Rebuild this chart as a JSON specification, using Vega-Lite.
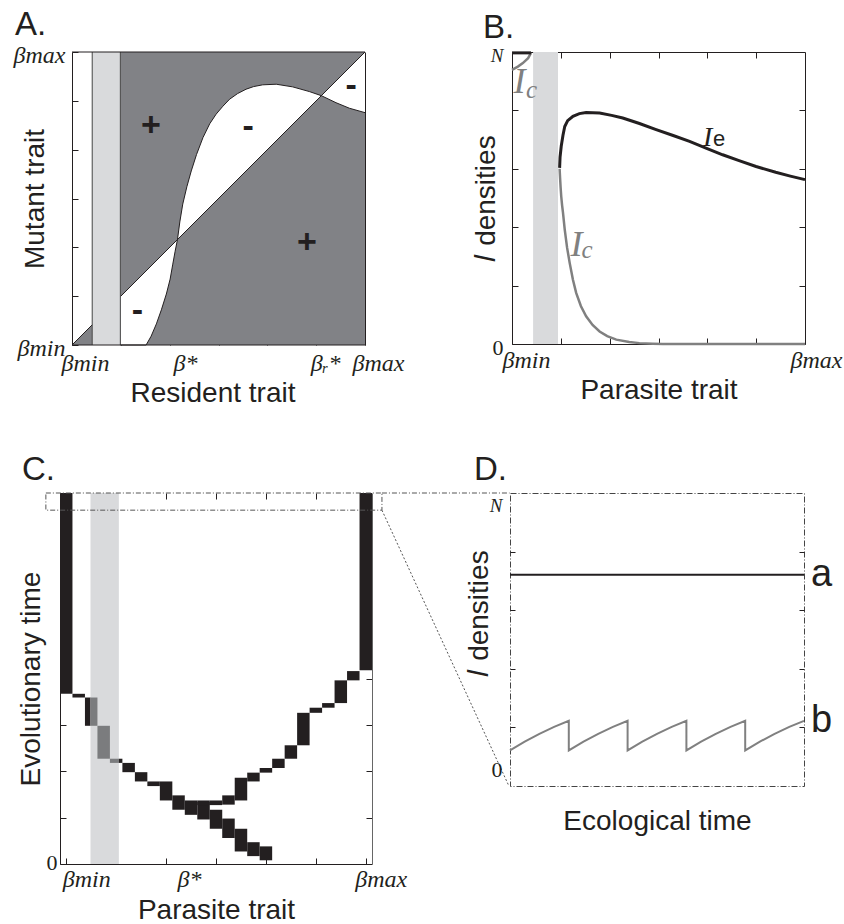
{
  "$schema": "https://vega.github.io/schema/vega-lite/v6.json",
  "background": "white",
  "padding": {"left": 13, "top": 9, "right": 2, "bottom": 0},
  "datasets": {
    "A_dark": [{"x": 0.165, "x2": 1, "y": 0, "y2": 1}],
    "A_band": [
      {"x": 0.165, "d": 0.165, "c": 0}, {"x": 0.253, "d": 0.253, "c": 0}, {"x": 0.27, "d": 0.27, "c": 0.03},
      {"x": 0.288, "d": 0.288, "c": 0.072}, {"x": 0.305, "d": 0.305, "c": 0.12}, {"x": 0.322, "d": 0.322, "c": 0.174},
      {"x": 0.335, "d": 0.335, "c": 0.225}, {"x": 0.344, "d": 0.344, "c": 0.276}, {"x": 0.352, "d": 0.352, "c": 0.32},
      {"x": 0.36, "d": 0.36, "c": 0.36}, {"x": 0.368, "d": 0.368, "c": 0.42}, {"x": 0.378, "d": 0.378, "c": 0.481},
      {"x": 0.392, "d": 0.392, "c": 0.54}, {"x": 0.407, "d": 0.407, "c": 0.594}, {"x": 0.425, "d": 0.425, "c": 0.65},
      {"x": 0.447, "d": 0.447, "c": 0.708}, {"x": 0.47, "d": 0.47, "c": 0.755}, {"x": 0.492, "d": 0.492, "c": 0.788},
      {"x": 0.515, "d": 0.515, "c": 0.815}, {"x": 0.538, "d": 0.538, "c": 0.839}, {"x": 0.565, "d": 0.565, "c": 0.858},
      {"x": 0.594, "d": 0.594, "c": 0.873}, {"x": 0.62, "d": 0.62, "c": 0.882}, {"x": 0.651, "d": 0.651, "c": 0.888},
      {"x": 0.697, "d": 0.697, "c": 0.89}, {"x": 0.753, "d": 0.753, "c": 0.881}, {"x": 0.81, "d": 0.81, "c": 0.865},
      {"x": 0.851, "d": 0.851, "c": 0.851}, {"x": 0.901, "d": 0.901, "c": 0.827}, {"x": 0.947, "d": 0.947, "c": 0.808},
      {"x": 1, "d": 1, "c": 0.793}
    ],
    "A_tri": [{"x": 0, "y": 0}, {"x": 0.069, "y": 0.069}],
    "A_diag": [{"x": 0, "y": 0}, {"x": 1, "y": 1}],
    "A_strip": [{"x": 0.069, "x2": 0.165, "y": 0, "y2": 1}],
    "A_edges": [{"x": 0.069}, {"x": 0.165}],
    "A_frame": [{"x": 0, "x2": 1, "y": 0}, {"x": 0, "x2": 1, "y": 1}],
    "A_signs": [
      {"x": 0.269, "y": 0.748, "t": "+"}, {"x": 0.601, "y": 0.743, "t": "-"}, {"x": 0.953, "y": 0.885, "t": "-"},
      {"x": 0.802, "y": 0.347, "t": "+"}, {"x": 0.223, "y": 0.115, "t": "-"}
    ],
    "B_strip": [{"x": 0.072, "x2": 0.157, "y": 0, "y2": 1}],
    "B_Ic": [
      {"seg": "arc", "x": 0, "y": 0.939}, {"seg": "arc", "x": 0.02, "y": 0.95}, {"seg": "arc", "x": 0.037, "y": 0.962},
      {"seg": "arc", "x": 0.055, "y": 0.979}, {"seg": "arc", "x": 0.065, "y": 0.997},
      {"seg": "main", "x": 0.1625, "y": 0.6}, {"seg": "main", "x": 0.164, "y": 0.57}, {"seg": "main", "x": 0.166, "y": 0.535},
      {"seg": "main", "x": 0.168, "y": 0.506}, {"seg": "main", "x": 0.171, "y": 0.475}, {"seg": "main", "x": 0.174, "y": 0.45},
      {"seg": "main", "x": 0.18, "y": 0.392}, {"seg": "main", "x": 0.188, "y": 0.33}, {"seg": "main", "x": 0.197, "y": 0.277},
      {"seg": "main", "x": 0.208, "y": 0.22}, {"seg": "main", "x": 0.219, "y": 0.175}, {"seg": "main", "x": 0.235, "y": 0.13},
      {"seg": "main", "x": 0.253, "y": 0.095}, {"seg": "main", "x": 0.275, "y": 0.065}, {"seg": "main", "x": 0.299, "y": 0.043},
      {"seg": "main", "x": 0.325, "y": 0.027}, {"seg": "main", "x": 0.356, "y": 0.015}, {"seg": "main", "x": 0.4, "y": 0.007},
      {"seg": "main", "x": 0.435, "y": 0.003}, {"seg": "main", "x": 0.48, "y": 0.001}, {"seg": "main", "x": 0.515, "y": 0},
      {"seg": "main", "x": 1, "y": 0}
    ],
    "B_Ie": [
      {"seg": "top", "x": 0, "y": 0.997}, {"seg": "top", "x": 0.065, "y": 0.997},
      {"seg": "main", "x": 0.1625, "y": 0.603}, {"seg": "main", "x": 0.164, "y": 0.64}, {"seg": "main", "x": 0.168, "y": 0.677},
      {"seg": "main", "x": 0.174, "y": 0.715}, {"seg": "main", "x": 0.18, "y": 0.745}, {"seg": "main", "x": 0.19, "y": 0.765},
      {"seg": "main", "x": 0.208, "y": 0.78}, {"seg": "main", "x": 0.23, "y": 0.789}, {"seg": "main", "x": 0.253, "y": 0.793},
      {"seg": "main", "x": 0.299, "y": 0.791}, {"seg": "main", "x": 0.34, "y": 0.783}, {"seg": "main", "x": 0.378, "y": 0.774},
      {"seg": "main", "x": 0.435, "y": 0.755}, {"seg": "main", "x": 0.492, "y": 0.734}, {"seg": "main", "x": 0.55, "y": 0.714},
      {"seg": "main", "x": 0.606, "y": 0.694}, {"seg": "main", "x": 0.66, "y": 0.672}, {"seg": "main", "x": 0.719, "y": 0.648},
      {"seg": "main", "x": 0.775, "y": 0.628}, {"seg": "main", "x": 0.833, "y": 0.608}, {"seg": "main", "x": 0.9, "y": 0.588},
      {"seg": "main", "x": 0.95, "y": 0.575}, {"seg": "main", "x": 1, "y": 0.563}
    ],
    "B_IcI": [{"x": 0.005, "y": 0.86, "t": "I"}, {"x": 0.2, "y": 0.3, "t": "I"}],
    "B_IcSub": [{"x": 0.048, "y": 0.842, "t": "c"}, {"x": 0.237, "y": 0.295, "t": "c"}],
    "B_IeI": [{"x": 0.652, "y": 0.677, "t": "I"}],
    "B_IeSub": [{"x": 0.686, "y": 0.678, "t": "e"}],
    "C_strip": [{"x": 0.081, "x2": 0.1757, "y": 0, "y2": 8}],
    "C_blocks": [
      {"x": -0.0208, "x2": 0.0208, "y": 3.67, "y2": 8.0, "tone": "out"},
      {"x": 0.0208, "x2": 0.0625, "y": 3.59, "y2": 3.67, "tone": "out"},
      {"x": 0.0625, "x2": 0.081, "y": 2.98, "y2": 3.59, "tone": "out"},
      {"x": 0.081, "x2": 0.1042, "y": 2.98, "y2": 3.59, "tone": "in"},
      {"x": 0.1042, "x2": 0.1458, "y": 2.27, "y2": 2.98, "tone": "in"},
      {"x": 0.1458, "x2": 0.1757, "y": 2.18, "y2": 2.27, "tone": "in"},
      {"x": 0.1757, "x2": 0.1875, "y": 2.18, "y2": 2.27, "tone": "out"},
      {"x": 0.1875, "x2": 0.2292, "y": 1.98, "y2": 2.18, "tone": "out"},
      {"x": 0.2292, "x2": 0.2708, "y": 1.78, "y2": 1.98, "tone": "out"},
      {"x": 0.2708, "x2": 0.3125, "y": 1.68, "y2": 1.78, "tone": "out"},
      {"x": 0.3125, "x2": 0.3542, "y": 1.37, "y2": 1.78, "tone": "out"},
      {"x": 0.3542, "x2": 0.3958, "y": 1.17, "y2": 1.48, "tone": "out"},
      {"x": 0.3958, "x2": 0.4375, "y": 1.06, "y2": 1.37, "tone": "out"},
      {"x": 0.4375, "x2": 0.4792, "y": 0.96, "y2": 1.34, "tone": "out"},
      {"x": 0.4792, "x2": 0.5208, "y": 0.76, "y2": 1.17, "tone": "out"},
      {"x": 0.5208, "x2": 0.5625, "y": 0.56, "y2": 0.98, "tone": "out"},
      {"x": 0.5625, "x2": 0.6042, "y": 0.27, "y2": 0.76, "tone": "out"},
      {"x": 0.6042, "x2": 0.6458, "y": 0.17, "y2": 0.47, "tone": "out"},
      {"x": 0.6458, "x2": 0.6875, "y": 0.08, "y2": 0.38, "tone": "out"},
      {"x": 0.4375, "x2": 0.4792, "y": 1.27, "y2": 1.37, "tone": "out"},
      {"x": 0.4792, "x2": 0.5208, "y": 1.27, "y2": 1.37, "tone": "out"},
      {"x": 0.5208, "x2": 0.5625, "y": 1.28, "y2": 1.48, "tone": "out"},
      {"x": 0.5625, "x2": 0.6042, "y": 1.37, "y2": 1.86, "tone": "out"},
      {"x": 0.6042, "x2": 0.6458, "y": 1.78, "y2": 1.97, "tone": "out"},
      {"x": 0.6458, "x2": 0.6875, "y": 1.97, "y2": 2.07, "tone": "out"},
      {"x": 0.6875, "x2": 0.7292, "y": 2.07, "y2": 2.27, "tone": "out"},
      {"x": 0.7292, "x2": 0.7708, "y": 2.27, "y2": 2.56, "tone": "out"},
      {"x": 0.7708, "x2": 0.8125, "y": 2.56, "y2": 3.26, "tone": "out"},
      {"x": 0.8125, "x2": 0.8542, "y": 3.26, "y2": 3.37, "tone": "out"},
      {"x": 0.8542, "x2": 0.8958, "y": 3.37, "y2": 3.47, "tone": "out"},
      {"x": 0.8958, "x2": 0.9375, "y": 3.47, "y2": 3.96, "tone": "out"},
      {"x": 0.9375, "x2": 0.9792, "y": 3.96, "y2": 4.16, "tone": "out"},
      {"x": 0.9792, "x2": 1.0208, "y": 4.18, "y2": 8.0, "tone": "out"}
    ],
    "C_box": [{"x": -0.068, "x2": 1.054, "y": 7.63, "y2": 8.0}],
    "C_zoomTop": [{"x": 1.054, "y": 8.0, "x2": 1.48, "y2": 8.0}],
    "C_zoomSlant": [{"x": 1.054, "y": 7.63, "x2": 1.478, "y2": 1.68}],
    "D_a": [{"t": 0, "v": 0.738}, {"t": 5, "v": 0.738}],
    "D_b": [
      {"i": 0, "t": 0, "v": 0.072}, {"i": 1, "t": 0.25, "v": 0.105}, {"i": 2, "t": 0.5, "v": 0.135}, {"i": 3, "t": 0.75, "v": 0.161}, {"i": 4, "t": 1, "v": 0.184},
      {"i": 5, "t": 1, "v": 0.072}, {"i": 6, "t": 1.25, "v": 0.105}, {"i": 7, "t": 1.5, "v": 0.135}, {"i": 8, "t": 1.75, "v": 0.161}, {"i": 9, "t": 2, "v": 0.184},
      {"i": 10, "t": 2, "v": 0.072}, {"i": 11, "t": 2.25, "v": 0.105}, {"i": 12, "t": 2.5, "v": 0.135}, {"i": 13, "t": 2.75, "v": 0.161}, {"i": 14, "t": 3, "v": 0.184},
      {"i": 15, "t": 3, "v": 0.072}, {"i": 16, "t": 3.25, "v": 0.105}, {"i": 17, "t": 3.5, "v": 0.135}, {"i": 18, "t": 3.75, "v": 0.161}, {"i": 19, "t": 4, "v": 0.184},
      {"i": 20, "t": 4, "v": 0.072}, {"i": 21, "t": 4.25, "v": 0.105}, {"i": 22, "t": 4.5, "v": 0.135}, {"i": 23, "t": 4.75, "v": 0.161}, {"i": 24, "t": 5, "v": 0.184}
    ],
    "D_labels": [{"t": 5, "v": 0.738, "lab": "a"}, {"t": 5, "v": 0.184, "lab": "b"}]
  },
  "spacing": 441,
  "bounds": "flush",
  "vconcat": [
    {
      "hconcat": [
        {
          "width": 305, "height": 293,
          "title": {"text": "A.", "dx": 2, "offset": 1},
          "resolve": {"axis": {"x": "independent", "y": "independent"}},
          "layer": [
            {
              "data": {"name": "A_dark"},
              "mark": {"type": "rect", "color": "#818286"},
              "encoding": {
                "x": {"field": "x", "type": "quantitative", "scale": {"domain": [-0.04096, 1], "nice": false, "zero": false},
                  "axis": {"orient": "bottom", "domain": false, "values": [0, 0.1667, 0.3333, 0.355, 0.5, 0.6667, 0.8333, 1],
                    "labelExpr": "datum.value==0?'βmin':datum.value==0.355?'β*':datum.value==0.8333?'βᵣ*':datum.value==1?'βmax':''",
                    "tickOpacity": {"condition": {"test": "datum.value==0.355", "value": 0}, "value": 1},
                    "tickSize": -6, "labelFont": "Liberation Serif", "labelFontStyle": "italic", "labelFontSize": 24, "labelPadding": 12, "labelBaseline": "top",
                    "labelOffset": {"condition": {"test": "datum.value==0||datum.value==1", "value": 13}, "value": 9},
                    "title": "Resident trait", "titleFontSize": 28, "titlePadding": 4}},
                "x2": {"field": "x2"},
                "y": {"field": "y", "type": "quantitative", "scale": {"domain": [0, 1], "nice": false, "zero": false},
                  "axis": {"orient": "left", "offset": -12, "values": [0, 0.1667, 0.3333, 0.5, 0.6667, 0.8333, 1],
                    "labelExpr": "datum.value==0?'βmin':datum.value==1?'βmax':''",
                    "tickSize": -6, "labelFont": "Liberation Serif", "labelFontStyle": "italic", "labelFontSize": 24, "labelPadding": 13, "labelOffset": 3,
                    "title": "Mutant trait", "titleFontSize": 28, "titleBaseline": "alphabetic", "titleX": -29}},
                "y2": {"field": "y2"}
              }
            },
            {
              "data": {"name": "A_band"},
              "mark": {"type": "area", "color": "white", "opacity": 1},
              "encoding": {
                "x": {"field": "x", "type": "quantitative", "scale": {"domain": [-0.04096, 1], "nice": false, "zero": false}, "axis": null},
                "y": {"field": "d", "type": "quantitative", "scale": {"domain": [0, 1], "nice": false, "zero": false}, "axis": null},
                "y2": {"field": "c"}
              }
            },
            {
              "data": {"name": "A_tri"},
              "mark": {"type": "area", "color": "#818286", "opacity": 1},
              "encoding": {
                "x": {"field": "x", "type": "quantitative", "scale": {"domain": [-0.04096, 1], "nice": false, "zero": false}, "axis": null},
                "y": {"field": "y", "type": "quantitative", "scale": {"domain": [0, 1], "nice": false, "zero": false}, "axis": null}
              }
            },
            {
              "data": {"name": "A_diag"},
              "mark": {"type": "line", "color": "#231f20", "strokeWidth": 1},
              "encoding": {
                "x": {"field": "x", "type": "quantitative", "scale": {"domain": [-0.04096, 1], "nice": false, "zero": false}, "axis": null},
                "y": {"field": "y", "type": "quantitative", "scale": {"domain": [0, 1], "nice": false, "zero": false}, "axis": null}
              }
            },
            {
              "data": {"name": "A_band"},
              "mark": {"type": "line", "color": "#231f20", "strokeWidth": 1},
              "encoding": {
                "x": {"field": "x", "type": "quantitative", "scale": {"domain": [-0.04096, 1], "nice": false, "zero": false}, "axis": null},
                "y": {"field": "c", "type": "quantitative", "scale": {"domain": [0, 1], "nice": false, "zero": false}, "axis": null}
              }
            },
            {
              "data": {"name": "A_strip"},
              "mark": {"type": "rect", "color": "#d9dadc"},
              "encoding": {
                "x": {"field": "x", "type": "quantitative", "scale": {"domain": [-0.04096, 1], "nice": false, "zero": false},
                  "axis": {"orient": "top", "domain": false, "values": [0.1667, 0.3333, 0.5, 0.6667, 0.8333], "labels": false, "tickSize": -6, "title": null}},
                "x2": {"field": "x2"},
                "y": {"field": "y", "type": "quantitative", "scale": {"domain": [0, 1], "nice": false, "zero": false},
                  "axis": {"orient": "right", "values": [0.1667, 0.3333, 0.5, 0.6667, 0.8333], "labels": false, "tickSize": -6, "title": null}},
                "y2": {"field": "y2"}
              }
            },
            {
              "data": {"name": "A_edges"},
              "mark": {"type": "rule", "color": "#444444", "strokeWidth": 1},
              "encoding": {
                "x": {"field": "x", "type": "quantitative", "scale": {"domain": [-0.04096, 1], "nice": false, "zero": false}, "axis": null}
              }
            },
            {
              "data": {"name": "A_frame"},
              "mark": {"type": "rule", "color": "#231f20", "strokeWidth": 1},
              "encoding": {
                "x": {"field": "x", "type": "quantitative", "scale": {"domain": [-0.04096, 1], "nice": false, "zero": false}, "axis": null},
                "x2": {"field": "x2"},
                "y": {"field": "y", "type": "quantitative", "scale": {"domain": [0, 1], "nice": false, "zero": false}, "axis": null}
              }
            },
            {
              "data": {"name": "A_signs"},
              "mark": {"type": "text", "font": "Liberation Sans", "fontSize": 34, "fontWeight": "bold", "color": "#231f20", "align": "center", "baseline": "middle"},
              "encoding": {
                "x": {"field": "x", "type": "quantitative", "scale": {"domain": [-0.04096, 1], "nice": false, "zero": false}, "axis": null},
                "y": {"field": "y", "type": "quantitative", "scale": {"domain": [0, 1], "nice": false, "zero": false}, "axis": null},
                "text": {"field": "t"}
              }
            }
          ]
        },
        {
          "width": 293, "height": 292,
          "title": {"text": "B.", "dx": 11, "offset": 1},
          "resolve": {"axis": {"x": "independent", "y": "independent"}},
          "layer": [
            {
              "data": {"name": "B_strip"},
              "mark": {"type": "rect", "color": "#d9dadc"},
              "encoding": {
                "x": {"field": "x", "type": "quantitative", "scale": {"domain": [0, 1], "nice": false, "zero": false},
                  "axis": {"orient": "bottom", "values": [0, 0.1667, 0.3333, 0.5, 0.6667, 0.8333, 1],
                    "labelExpr": "datum.value==0?'βmin':datum.value==1?'βmax':''",
                    "tickSize": -6, "labelFont": "Liberation Serif", "labelFontStyle": "italic", "labelFontSize": 24, "labelPadding": 10, "labelBaseline": "top",
                    "labelOffset": {"condition": {"test": "datum.value==1", "value": 11}, "value": 14},
                    "title": "Parasite trait", "titleFontSize": 28, "titlePadding": 4}},
                "x2": {"field": "x2"},
                "y": {"field": "y", "type": "quantitative", "scale": {"domain": [0, 1], "nice": false, "zero": false},
                  "axis": {"orient": "left", "values": [0, 0.2, 0.4, 0.6, 0.8, 1],
                    "labelExpr": "datum.value==0?'0':datum.value==1?'N':''",
                    "tickSize": -6, "labelFont": "Liberation Serif",
                    "labelFontStyle": {"condition": {"test": "datum.value==1", "value": "italic"}, "value": "normal"},
                    "labelFontSize": {"condition": {"test": "datum.value==1", "value": 19}, "value": 22},
                    "labelPadding": 15, "labelOffset": 3,
                    "title": "𝐼 densities", "titleFontSize": 28, "titleBaseline": "alphabetic", "titleX": -18}},
                "y2": {"field": "y2"}
              }
            },
            {
              "data": {"name": "B_Ic"},
              "mark": {"type": "line", "color": "#808080", "strokeWidth": 2.5},
              "encoding": {
                "x": {"field": "x", "type": "quantitative", "scale": {"domain": [0, 1], "nice": false, "zero": false},
                  "axis": {"orient": "top", "values": [0.1667, 0.3333, 0.5, 0.6667, 0.8333], "labels": false, "tickSize": -6, "title": null}},
                "y": {"field": "y", "type": "quantitative", "scale": {"domain": [0, 1], "nice": false, "zero": false},
                  "axis": {"orient": "right", "values": [0.2, 0.4, 0.6, 0.8], "labels": false, "tickSize": -6, "title": null}},
                "detail": {"field": "seg"}
              }
            },
            {
              "data": {"name": "B_Ie"},
              "mark": {"type": "line", "color": "#231f20", "strokeWidth": 3},
              "encoding": {
                "x": {"field": "x", "type": "quantitative", "scale": {"domain": [0, 1], "nice": false, "zero": false}, "axis": null},
                "y": {"field": "y", "type": "quantitative", "scale": {"domain": [0, 1], "nice": false, "zero": false}, "axis": null},
                "detail": {"field": "seg"}
              }
            },
            {
              "data": {"name": "B_IcI"},
              "mark": {"type": "text", "font": "Liberation Serif", "fontStyle": "italic", "fontSize": 36, "color": "#808080", "align": "left", "baseline": "alphabetic"},
              "encoding": {
                "x": {"field": "x", "type": "quantitative", "scale": {"domain": [0, 1], "nice": false, "zero": false}, "axis": null},
                "y": {"field": "y", "type": "quantitative", "scale": {"domain": [0, 1], "nice": false, "zero": false}, "axis": null},
                "text": {"field": "t"}
              }
            },
            {
              "data": {"name": "B_IcSub"},
              "mark": {"type": "text", "font": "Liberation Serif", "fontStyle": "italic", "fontSize": 25, "color": "#808080", "align": "left", "baseline": "alphabetic"},
              "encoding": {
                "x": {"field": "x", "type": "quantitative", "scale": {"domain": [0, 1], "nice": false, "zero": false}, "axis": null},
                "y": {"field": "y", "type": "quantitative", "scale": {"domain": [0, 1], "nice": false, "zero": false}, "axis": null},
                "text": {"field": "t"}
              }
            },
            {
              "data": {"name": "B_IeI"},
              "mark": {"type": "text", "font": "Liberation Serif", "fontStyle": "italic", "fontSize": 28, "color": "#231f20", "align": "left", "baseline": "alphabetic"},
              "encoding": {
                "x": {"field": "x", "type": "quantitative", "scale": {"domain": [0, 1], "nice": false, "zero": false}, "axis": null},
                "y": {"field": "y", "type": "quantitative", "scale": {"domain": [0, 1], "nice": false, "zero": false}, "axis": null},
                "text": {"field": "t"}
              }
            },
            {
              "data": {"name": "B_IeSub"},
              "mark": {"type": "text", "font": "Liberation Sans", "fontSize": 22, "color": "#231f20", "align": "left", "baseline": "alphabetic"},
              "encoding": {
                "x": {"field": "x", "type": "quantitative", "scale": {"domain": [0, 1], "nice": false, "zero": false}, "axis": null},
                "y": {"field": "y", "type": "quantitative", "scale": {"domain": [0, 1], "nice": false, "zero": false}, "axis": null},
                "text": {"field": "t"}
              }
            }
          ]
        }
      ],
      "spacing": 147,
      "bounds": "flush"
    },
    {
      "hconcat": [
        {
          "width": 312, "height": 371,
          "title": {"text": "C.", "dx": 5, "offset": 6},
          "resolve": {"axis": {"x": "independent", "y": "independent"}},
          "layer": [
            {
              "data": {"name": "C_strip"},
              "mark": {"type": "rect", "color": "#d9dadc"},
              "encoding": {
                "x": {"field": "x", "type": "quantitative", "scale": {"domain": [-0.0208, 1.0208], "nice": false, "zero": false},
                  "axis": {"orient": "bottom", "values": [0, 0.1667, 0.3333, 0.36, 0.5, 0.6667, 0.8333, 1],
                    "labelExpr": "datum.value==0?'βmin':datum.value==0.36?'β*':datum.value==1?'βmax':''",
                    "tickOpacity": {"condition": {"test": "datum.value==0.36", "value": 0}, "value": 1},
                    "tickSize": -6, "labelFont": "Liberation Serif", "labelFontStyle": "italic", "labelFontSize": 24, "labelPadding": 9, "labelBaseline": "top",
                    "labelOffset": {"condition": {"test": "datum.value==0", "value": 20}, "value": 15},
                    "title": "Parasite trait", "titleFontSize": 28, "titlePadding": 5}},
                "x2": {"field": "x2"},
                "y": {"field": "y", "type": "quantitative", "scale": {"domain": [0, 8], "nice": false, "zero": false},
                  "axis": {"orient": "left", "values": [0, 1, 2, 3, 4, 5, 6, 7],
                    "labelExpr": "datum.value==0?'0':''",
                    "tickSize": -6, "labelFont": "Liberation Serif", "labelFontSize": 22, "labelPadding": 9, "labelOffset": -2,
                    "title": "Evolutionary time", "titleFontSize": 28, "titleBaseline": "alphabetic", "titleX": -21}},
                "y2": {"field": "y2"}
              }
            },
            {
              "data": {"name": "C_blocks"},
              "mark": {"type": "rect"},
              "encoding": {
                "x": {"field": "x", "type": "quantitative", "scale": {"domain": [-0.0208, 1.0208], "nice": false, "zero": false},
                  "axis": {"orient": "top", "values": [0.1667, 0.3333, 0.5, 0.6667, 0.8333], "labels": false, "tickSize": -6, "domain": false, "title": null}},
                "x2": {"field": "x2"},
                "y": {"field": "y", "type": "quantitative", "scale": {"domain": [0, 8], "nice": false, "zero": false},
                  "axis": {"orient": "right", "values": [1, 2, 3, 4, 5, 6, 7], "labels": false, "tickSize": -6, "title": null, "domainColor": "#666666"}},
                "y2": {"field": "y2"},
                "color": {"field": "tone", "type": "nominal", "scale": {"domain": ["out", "in"], "range": ["#231f20", "#7b7c7e"]}, "legend": null}
              }
            },
            {
              "data": {"name": "C_box"},
              "mark": {"type": "rect", "filled": false, "color": "#555555", "strokeWidth": 1, "strokeDash": [5, 2, 1, 2]},
              "encoding": {
                "x": {"field": "x", "type": "quantitative", "scale": {"domain": [-0.0208, 1.0208], "nice": false, "zero": false}, "axis": null},
                "x2": {"field": "x2"},
                "y": {"field": "y", "type": "quantitative", "scale": {"domain": [0, 8], "nice": false, "zero": false}, "axis": null},
                "y2": {"field": "y2"}
              }
            },
            {
              "data": {"name": "C_zoomTop"},
              "mark": {"type": "rule", "color": "#555555", "strokeWidth": 1, "strokeDash": [5, 2, 1, 2]},
              "encoding": {
                "x": {"field": "x", "type": "quantitative", "scale": {"domain": [-0.0208, 1.0208], "nice": false, "zero": false}, "axis": null},
                "x2": {"field": "x2"},
                "y": {"field": "y", "type": "quantitative", "scale": {"domain": [0, 8], "nice": false, "zero": false}, "axis": null},
                "y2": {"field": "y2"}
              }
            },
            {
              "data": {"name": "C_zoomSlant"},
              "mark": {"type": "rule", "color": "#555555", "strokeWidth": 1, "strokeDash": [2, 2]},
              "encoding": {
                "x": {"field": "x", "type": "quantitative", "scale": {"domain": [-0.0208, 1.0208], "nice": false, "zero": false}, "axis": null},
                "x2": {"field": "x2"},
                "y": {"field": "y", "type": "quantitative", "scale": {"domain": [0, 8], "nice": false, "zero": false}, "axis": null},
                "y2": {"field": "y2"}
              }
            }
          ]
        },
        {
          "width": 294, "height": 293,
          "title": {"text": "D.", "dx": 9, "offset": 6},
          "view": {"stroke": "#444444", "strokeWidth": 1, "strokeDash": [6, 2, 1, 2]},
          "resolve": {"axis": {"x": "independent", "y": "independent"}},
          "layer": [
            {
              "data": {"name": "D_a"},
              "mark": {"type": "line", "color": "#231f20", "strokeWidth": 2},
              "encoding": {
                "x": {"field": "t", "type": "quantitative", "scale": {"domain": [0, 5], "nice": false, "zero": false},
                  "axis": {"orient": "bottom", "domain": false, "ticks": false, "labels": false, "title": "Ecological time", "titleFontSize": 28, "titlePadding": 21}},
                "y": {"field": "v", "type": "quantitative", "scale": {"domain": [-0.063, 1.048], "nice": false, "zero": false},
                  "axis": {"orient": "left", "values": [0, 0.159, 0.381, 0.604, 0.826, 1],
                    "labelExpr": "datum.value==0?'0':datum.value==1?'N':''",
                    "tickOpacity": {"condition": {"test": "datum.value==0||datum.value==1", "value": 0}, "value": 1},
                    "tickSize": -5, "domain": false, "labelFont": "Liberation Serif",
                    "labelFontStyle": {"condition": {"test": "datum.value==1", "value": "italic"}, "value": "normal"},
                    "labelFontSize": {"condition": {"test": "datum.value==1", "value": 19}, "value": 22},
                    "labelPadding": 13,
                    "title": "𝐼 densities", "titleFontSize": 28, "titleBaseline": "alphabetic", "titleX": -23, "titleY": 120}}
              }
            },
            {
              "data": {"name": "D_b"},
              "mark": {"type": "line", "color": "#808080", "strokeWidth": 2},
              "encoding": {
                "x": {"field": "t", "type": "quantitative", "scale": {"domain": [0, 5], "nice": false, "zero": false}, "axis": null},
                "y": {"field": "v", "type": "quantitative", "scale": {"domain": [-0.063, 1.048], "nice": false, "zero": false},
                  "axis": {"orient": "right", "values": [0.159, 0.381, 0.604, 0.826], "labels": false, "tickSize": -5, "domain": false, "title": null}},
                "order": {"field": "i", "type": "quantitative"}
              }
            },
            {
              "data": {"name": "D_labels"},
              "mark": {"type": "text", "font": "Liberation Sans", "fontSize": 38, "color": "#231f20", "align": "left", "baseline": "middle", "dx": 7},
              "encoding": {
                "x": {"field": "t", "type": "quantitative", "scale": {"domain": [0, 5], "nice": false, "zero": false}, "axis": null},
                "y": {"field": "v", "type": "quantitative", "scale": {"domain": [-0.063, 1.048], "nice": false, "zero": false}, "axis": null},
                "text": {"field": "lab"}
              }
            }
          ]
        }
      ],
      "spacing": 138,
      "bounds": "flush"
    }
  ],
  "config": {
    "view": {"stroke": null},
    "font": "Liberation Sans",
    "axis": {
      "grid": false,
      "labelFont": "Liberation Serif",
      "labelColor": "#231f20",
      "titleFont": "Liberation Sans",
      "titleFontWeight": "normal",
      "titleColor": "#231f20",
      "domainColor": "#231f20",
      "tickColor": "#231f20",
      "labelFlush": false,
      "labelOverlap": false,
      "labelBound": false
    },
    "title": {"font": "Liberation Sans", "fontSize": 33, "fontWeight": "normal", "anchor": "start", "color": "#231f20"}
  }
}
